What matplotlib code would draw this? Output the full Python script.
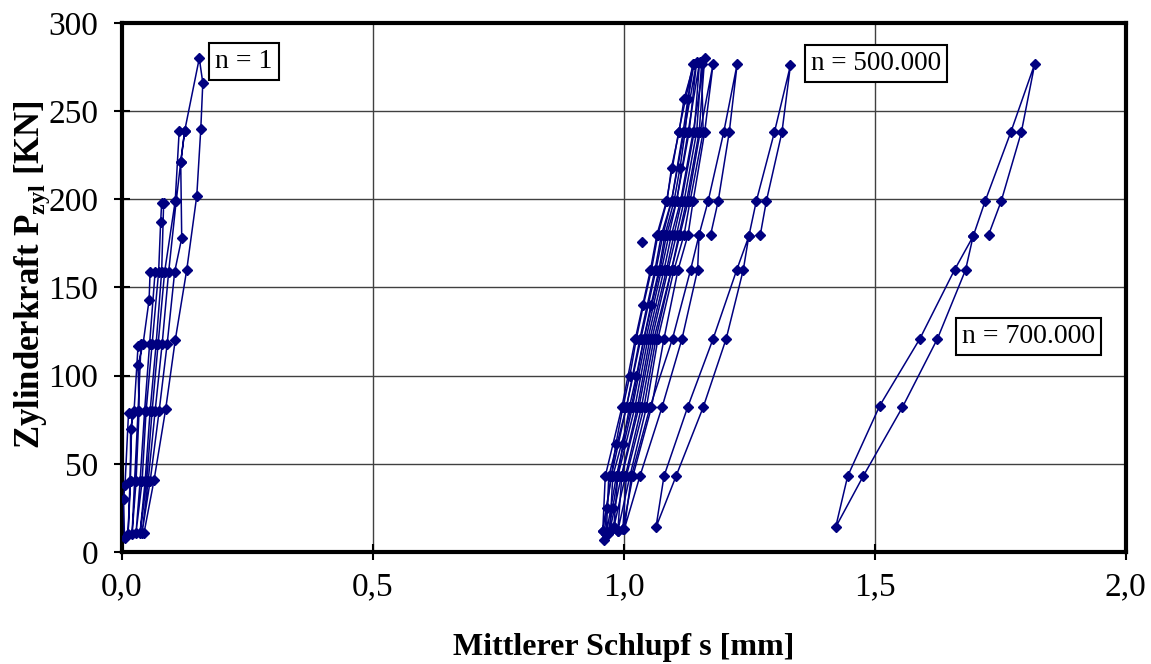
import matplotlib
matplotlib.use("Agg")
import matplotlib.pyplot as plt

plt.rcParams["font.family"] = ["Liberation Serif", "DejaVu Serif"]
plt.rcParams["mathtext.fontset"] = "custom"
plt.rcParams["mathtext.rm"] = "Liberation Serif"
plt.rcParams["mathtext.bf"] = "Liberation Serif:bold"

# n = 1 (erste Belastung, Stufen bis 280 kN)
n1_x = [0.005, 0.003, 0.006, 0.013, 0.020, 0.016, 0.012,
        0.017, 0.017, 0.024, 0.032, 0.038, 0.032, 0.025, 0.020,
        0.028, 0.034, 0.032, 0.042, 0.054, 0.056, 0.066, 0.055, 0.045, 0.036, 0.028,
        0.040, 0.048, 0.060, 0.073, 0.077, 0.079, 0.083, 0.079, 0.068, 0.056, 0.046, 0.036,
        0.049, 0.060, 0.072, 0.085, 0.106, 0.114, 0.125, 0.117, 0.108, 0.093, 0.080, 0.066, 0.052, 0.040,
        0.056, 0.074, 0.090, 0.105, 0.119, 0.117, 0.125, 0.154, 0.161, 0.157, 0.149, 0.129, 0.106, 0.087, 0.064, 0.044]
n1_y = [8, 30, 38, 79, 78, 40, 10,
        40, 70, 80, 117, 118, 80, 40, 10,
        40, 80, 106, 118, 143, 159, 159, 118, 80, 40, 11,
        40, 80, 118, 159, 187, 198, 198, 159, 118, 80, 40, 11,
        40, 80, 118, 159, 199, 239, 239, 221, 199, 159, 118, 80, 40, 11,
        40, 80, 118, 159, 178, 221, 239, 280, 266, 240, 202, 160, 120, 81, 41, 11]

# n = 500.000 (dichter Bereich)
c0_x = [0.960, 0.966, 0.975, 0.984, 0.998, 1.012, 1.025, 1.039, 1.055, 1.068, 1.086, 1.095, 1.110, 1.120, 1.140,
        1.128, 1.122, 1.112, 1.100, 1.082, 1.070, 1.054, 1.040, 1.025, 1.011, 0.998, 0.988, 0.978, 0.968]
c0_y = [7, 25, 43, 61, 82, 100, 121, 140, 160, 180, 199, 218, 238, 257, 277,
        257, 238, 218, 199, 180, 160, 140, 121, 100, 82, 61, 43, 25, 10]
c1_x = [0.958, 0.963, 0.996, 1.023, 1.053, 1.066, 1.085, 1.109, 1.138, 1.118, 1.095, 1.078, 1.064, 1.034, 1.005, 0.975, 0.958]
c1_y = [12, 43, 82, 121, 160, 180, 199, 238, 277, 238, 199, 180, 160, 121, 82, 43, 12]
c2_x = [0.965, 0.970, 1.005, 1.032, 1.062, 1.075, 1.095, 1.120, 1.145, 1.130, 1.105, 1.090, 1.075, 1.044, 1.017, 0.985, 0.965]
c2_y = [10, 43, 82, 121, 160, 180, 199, 238, 278, 238, 199, 180, 160, 121, 82, 43, 10]
c3_x = [0.972, 0.978, 1.015, 1.040, 1.072, 1.085, 1.105, 1.128, 1.151, 1.140, 1.115, 1.100, 1.085, 1.052, 1.027, 0.995, 0.972]
c3_y = [12, 43, 82, 121, 160, 180, 199, 238, 278, 238, 199, 180, 160, 121, 82, 43, 12]
c4_x = [0.980, 0.988, 1.022, 1.048, 1.080, 1.095, 1.113, 1.138, 1.161, 1.150, 1.125, 1.110, 1.095, 1.060, 1.035, 1.003, 0.980]
c4_y = [14, 43, 82, 121, 160, 180, 199, 238, 280, 238, 199, 180, 160, 121, 82, 43, 14]
c5_x = [0.988, 0.996, 1.030, 1.056, 1.088, 1.105, 1.120, 1.145, 1.155, 1.158, 1.132, 1.120, 1.100, 1.068, 1.045, 1.012, 0.988]
c5_y = [12, 43, 82, 121, 160, 180, 199, 238, 277, 238, 199, 180, 160, 121, 82, 43, 12]
c6_x = [0.998, 1.005, 1.040, 1.064, 1.095, 1.112, 1.128, 1.152, 1.178, 1.161, 1.138, 1.128, 1.108, 1.080, 1.055, 1.018, 0.998]
c6_y = [13, 43, 82, 121, 160, 180, 199, 238, 277, 238, 199, 180, 160, 121, 82, 43, 13]

# n = 500.000 (die beiden rechten Schleifen)
b_x = [1.173, 1.188, 1.210, 1.226, 1.199, 1.168, 1.150, 1.133, 1.097, 1.052, 1.015, 1.001, 1.032, 1.076, 1.116, 1.147, 1.150]
b_y = [180, 199, 238, 277, 238, 199, 180, 160, 121, 82, 43, 13, 43, 82, 121, 160, 180]
a_x = [1.272, 1.284, 1.315, 1.332, 1.300, 1.264, 1.249, 1.225, 1.178, 1.127, 1.080, 1.064, 1.104, 1.158, 1.204, 1.238, 1.249]
a_y = [180, 199, 238, 276, 238, 199, 179, 160, 121, 82, 43, 14, 43, 82, 121, 160, 179]

# einzelner Messpunkt
single_x = [1.036]
single_y = [176]

# n = 700.000
n7_x = [1.727, 1.752, 1.792, 1.819, 1.771, 1.720, 1.696, 1.659, 1.590, 1.510, 1.446, 1.422, 1.477, 1.555, 1.625, 1.681, 1.696]
n7_y = [180, 199, 238, 277, 238, 199, 179, 160, 121, 83, 43, 14, 43, 82, 121, 160, 179]

xticks = [0.0, 0.5, 1.0, 1.5, 2.0]
xtick_labels = ["0,0", "0,5", "1,0", "1,5", "2,0"]
yticks = [0, 50, 100, 150, 200, 250, 300]

navy = "#000080"

fig = plt.figure(figsize=(11.51, 6.64), dpi=100)
ax = fig.add_axes([0.106, 0.1687, 0.872, 0.7967])

series = [(n1_x, n1_y), (c0_x, c0_y), (c1_x, c1_y), (c2_x, c2_y), (c3_x, c3_y),
          (c4_x, c4_y), (c5_x, c5_y), (c6_x, c6_y), (b_x, b_y), (a_x, a_y),
          (single_x, single_y), (n7_x, n7_y)]
for sx, sy in series:
    ax.plot(sx, sy, color=navy, lw=1.1, marker="D", ms=5, mfc=navy, mec=navy, zorder=3)

ax.set_xlim(0, 2.0)
ax.set_ylim(0, 300)
ax.set_xticks(xticks)
ax.set_xticklabels(xtick_labels)
ax.set_yticks(yticks)
ax.grid(True, color="0.25", lw=1.0, zorder=0)
ax.set_axisbelow(True)

for sp in ax.spines.values():
    sp.set_linewidth(3)
    sp.set_color("black")
ax.tick_params(direction="inout", length=12, width=1.5, labelsize=24)
ax.tick_params(axis="x", pad=8)
ax.tick_params(axis="y", pad=11)

ax.set_xlabel("Mittlerer Schlupf s [mm]", fontsize=23, fontweight="bold")
ax.set_ylabel(r"Zylinderkraft P$_{\mathbf{zyl}}$ [KN]", fontsize=25, fontweight="bold")
ax.xaxis.set_label_coords(0.5, -0.153)
ax.yaxis.set_label_coords(-0.070, 0.524)

box = dict(boxstyle="square,pad=0.22", fc="white", ec="black", lw=1.5)
ax.text(0.186, 278, "n = 1", fontsize=20, ha="left", va="center", bbox=box, zorder=5)
ax.text(1.372, 277, "n = 500.000", fontsize=19.5, ha="left", va="center", bbox=box, zorder=5)
ax.text(1.674, 122, "n = 700.000", fontsize=20, ha="left", va="center", bbox=box, zorder=5)

fig.savefig("out.png", dpi=100)
